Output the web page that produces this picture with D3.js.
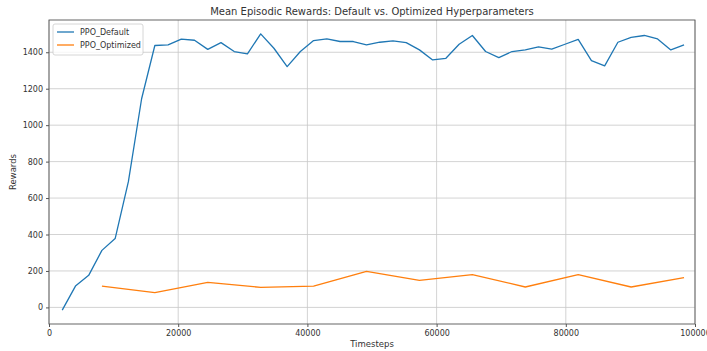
<!DOCTYPE html>
<html><head><meta charset="utf-8">
<script src="https://cdn.jsdelivr.net/npm/d3@7"></script>
<style>body{margin:0;background:#fff}svg{display:block}text{font-family:"DejaVu Sans",sans-serif;fill:#333}</style>
</head><body><svg id="c" width="707" height="351"></svg>
<script>
const defaultSteps = d3.range(1, 49).map(k => k * 2048);
const defaultRewards = [-15,117,176,313,378,690,1145,1437,1440,1472,1466,1416,1453,1404,1391,1501,1422,1321,1404,1464,1473,1459,1459,1440,1455,1462,1453,1413,1358,1367,1444,1492,1404,1371,1404,1413,1429,1417,1444,1471,1354,1325,1455,1482,1492,1473,1413,1440];
const optimizedSteps = d3.range(1, 13).map(k => k * 8192);
const optimizedRewards = [117,81,137,110,117,198,148,180,112,180,112,163];
const xTicks = [0,20000,40000,60000,80000,100000];
const yTicks = [0,200,400,600,800,1000,1200,1400];
const seriesNames = ["PPO_Default","PPO_Optimized"];
const colors = ["#1f77b4","#ff7f0e"];

const svg = d3.select("#c");
const L=49,R=695,T=20,B=324;
const x = d3.scaleLinear().domain([0,100000]).range([L,R]);
const y = d3.scaleLinear().domain([-91,1577]).range([B,T]);

// grid
svg.append("g").selectAll("line").data(xTicks).join("line")
  .attr("x1",d=>x(d)).attr("x2",d=>x(d)).attr("y1",T).attr("y2",B)
  .attr("stroke","#c8c8c8").attr("stroke-width",0.8);
svg.append("g").selectAll("line").data(yTicks).join("line")
  .attr("x1",L).attr("x2",R).attr("y1",d=>y(d)).attr("y2",d=>y(d))
  .attr("stroke","#c8c8c8").attr("stroke-width",0.8);

// axes
const xa = svg.append("g").attr("transform",`translate(0,${B})`)
  .call(d3.axisBottom(x).tickValues(xTicks).tickFormat(d3.format("d")).tickSize(3).tickPadding(3));
const ya = svg.append("g").attr("transform",`translate(${L},0)`)
  .call(d3.axisLeft(y).tickValues(yTicks).tickFormat(d3.format("d")).tickSize(3).tickPadding(3));
[xa,ya].forEach(a=>{a.select(".domain").remove();a.selectAll("line").attr("stroke","#555");
  a.selectAll("text").attr("font-size",8).attr("fill","#333").style("font-family","DejaVu Sans");});

// lines
const line = d3.line().x(d=>x(d[0])).y(d=>y(d[1]));
svg.append("path").datum(d3.zip(defaultSteps,defaultRewards)).attr("d",line)
  .attr("fill","none").attr("stroke",colors[0]).attr("stroke-width",1.3).attr("stroke-linejoin","round");
svg.append("path").datum(d3.zip(optimizedSteps,optimizedRewards)).attr("d",line)
  .attr("fill","none").attr("stroke",colors[1]).attr("stroke-width",1.3).attr("stroke-linejoin","round");

// frame
svg.append("rect").attr("x",L).attr("y",T).attr("width",R-L).attr("height",B-T)
  .attr("fill","none").attr("stroke","#555").attr("stroke-width",0.9);

// title & labels
svg.append("text").attr("x",(L+R)/2).attr("y",15).attr("text-anchor","middle").attr("font-size",10)
  .text("Mean Episodic Rewards: Default vs. Optimized Hyperparameters");
svg.append("text").attr("x",(L+R)/2).attr("y",347).attr("text-anchor","middle").attr("font-size",8.5).text("Timesteps");
svg.append("text").attr("transform",`translate(16,${(T+B)/2}) rotate(-90)`).attr("text-anchor","middle").attr("font-size",8.5).text("Rewards");

// legend
const lg = svg.append("g").attr("transform","translate(53,24)");
lg.append("rect").attr("width",90).attr("height",31).attr("rx",2).attr("fill","#fff").attr("fill-opacity",0.8).attr("stroke","#ccc").attr("stroke-width",0.8);
seriesNames.forEach((n,i)=>{
  lg.append("line").attr("x1",4).attr("x2",21).attr("y1",8+i*13).attr("y2",8+i*13).attr("stroke",colors[i]).attr("stroke-width",1.3);
  lg.append("text").attr("x",27).attr("y",11+i*13).attr("font-size",8).text(n);
});
</script></body></html>
